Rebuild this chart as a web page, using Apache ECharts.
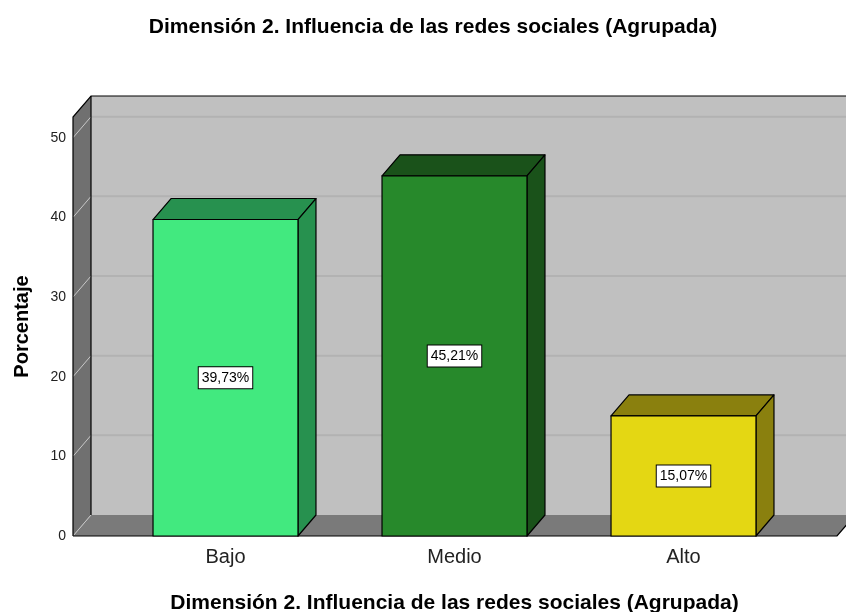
<!DOCTYPE html>
<html>
<head>
<meta charset="utf-8">
<script src="https://cdn.jsdelivr.net/npm/echarts@6/dist/echarts.min.js"></script>
<style>html,body{margin:0;padding:0;background:#fff}#c{width:846px;height:612px}</style>
</head>
<body>
<div id="c"></div>
<script>
const titleText = 'Dimensión 2. Influencia de las redes sociales (Agrupada)';
const categories = ['Bajo', 'Medio', 'Alto'];
const percentages = [39.73, 45.21, 15.07];
const yTicks = [0, 10, 20, 30, 40, 50];
const frontColors = ['#42E97F', '#27892B', '#E4D713'];
const darkColors = ['#27914F', '#1A521A', '#8A800E'];

const DX = 18, DY = 21;           // depth offset of the 3D look
const BAR_RATIO = 0.633;
const WALL_LEFT = 38, WALL_RIGHT = 39;
const FONT = '"Liberation Sans", Arial, sans-serif';

const chart = echarts.init(document.getElementById('c'), null, {renderer: 'canvas'});

function wallsRender(params, api) {
  const cs = params.coordSys;
  const fx0 = cs.x - WALL_LEFT, fx1 = cs.x + cs.width + WALL_RIGHT;
  const yTop = cs.y, yBot = cs.y + cs.height;
  const bx0 = fx0 + DX, bx1 = fx1 + DX, byTop = yTop - DY, byBot = yBot - DY;
  const ch = [];
  ch.push({type: 'polygon', shape: {points: [[bx0, byTop], [bx1, byTop], [bx1, byBot], [bx0, byBot]]}, style: {fill: '#C0C0C0'}});
  ch.push({type: 'polygon', shape: {points: [[fx0, yTop], [bx0, byTop], [bx0, byBot], [fx0, yBot]]}, style: {fill: '#707070'}});
  ch.push({type: 'polygon', shape: {points: [[fx0, yBot], [bx0, byBot], [bx1, byBot], [fx1, yBot]]}, style: {fill: '#7A7A7A'}});
  yTicks.forEach(function (t) {
    const y = api.coord([0, t])[1];
    if (t > 0) {
      ch.push({type: 'line', shape: {x1: bx0, y1: y - DY, x2: bx1, y2: y - DY}, style: {stroke: '#B2B2B2', lineWidth: 2}});
    }
    ch.push({type: 'line', shape: {x1: fx0, y1: y, x2: bx0, y2: y - DY}, style: {stroke: '#C8C8C8', lineWidth: 1}});
  });
  const blk = {stroke: '#000', lineWidth: 1.2};
  ch.push({type: 'polyline', shape: {points: [[fx0, yBot], [fx0, yTop], [bx0, byTop], [bx1, byTop]]}, style: Object.assign({fill: null}, blk)});
  ch.push({type: 'line', shape: {x1: bx0, y1: byTop, x2: bx0, y2: byBot}, style: blk});
  ch.push({type: 'polyline', shape: {points: [[fx0, yBot], [fx1, yBot], [bx1, byBot]]}, style: Object.assign({fill: null}, blk)});
  return {type: 'group', children: ch};
}

function barsRender(params, api) {
  const i = api.value(0), v = api.value(1);
  const top = api.coord([i, v]);
  const base = api.coord([i, 0]);
  const bw = api.size([1, 0])[0] * BAR_RATIO;
  const x0 = top[0] - bw / 2, x1 = top[0] + bw / 2, y0 = top[1], y1 = base[1];
  const line = {stroke: '#000', lineWidth: 1.2, lineJoin: 'round'};
  const lbl = v.toFixed(2).replace('.', ',') + '%';
  return {
    type: 'group',
    children: [
      {type: 'polygon', shape: {points: [[x0, y0], [x0 + DX, y0 - DY], [x1 + DX, y0 - DY], [x1, y0]]}, style: Object.assign({fill: darkColors[i]}, line)},
      {type: 'polygon', shape: {points: [[x1, y0], [x1 + DX, y0 - DY], [x1 + DX, y1 - DY], [x1, y1]]}, style: Object.assign({fill: darkColors[i]}, line)},
      {type: 'rect', shape: {x: x0, y: y0, width: bw, height: y1 - y0}, style: Object.assign({fill: frontColors[i]}, line)},
      {type: 'text', x: top[0], y: (y0 + y1) / 2, style: {
        text: lbl, align: 'center', verticalAlign: 'middle',
        font: '14px ' + FONT, fill: '#000',
        backgroundColor: '#fff', borderColor: '#000', borderWidth: 1, padding: [4, 3, 3, 3]
      }}
    ]
  };
}

chart.setOption({
  animation: false,
  backgroundColor: '#fff',
  title: {
    text: titleText, left: 428, top: 12, textAlign: 'center',
    textStyle: {fontFamily: FONT, fontSize: 21, fontWeight: 'bold', color: '#000'}
  },
  grid: {left: 111, right: 48, top: 117, bottom: 76, containLabel: false, outerBoundsMode: 'none'},
  xAxis: {
    type: 'category', data: categories,
    name: titleText, nameLocation: 'middle', nameGap: 57, nameMoveOverlap: false,
    nameTextStyle: {fontFamily: FONT, fontSize: 21, fontWeight: 'bold', color: '#000'},
    axisLine: {show: false}, axisTick: {show: false},
    axisLabel: {fontFamily: FONT, fontSize: 20, color: '#222', margin: 11}
  },
  yAxis: {
    type: 'value', min: 0, max: 52.6, interval: 10,
    name: 'Porcentaje', nameLocation: 'middle', nameGap: 79, nameMoveOverlap: false,
    nameTextStyle: {fontFamily: FONT, fontSize: 20, fontWeight: 'bold', color: '#000'},
    axisLine: {show: false}, axisTick: {show: false}, splitLine: {show: false},
    axisLabel: {
      fontFamily: FONT, fontSize: 14, color: '#222', margin: 45,
      formatter: function (v) { return yTicks.indexOf(v) >= 0 ? String(v) : ''; }
    }
  },
  series: [
    {type: 'custom', renderItem: wallsRender, data: [[0, 0]], silent: true, z: 1, clip: false},
    {type: 'custom', renderItem: barsRender, data: percentages.map(function (v, i) { return [i, v]; }), z: 2, clip: false}
  ]
});
</script>
</body>
</html>
